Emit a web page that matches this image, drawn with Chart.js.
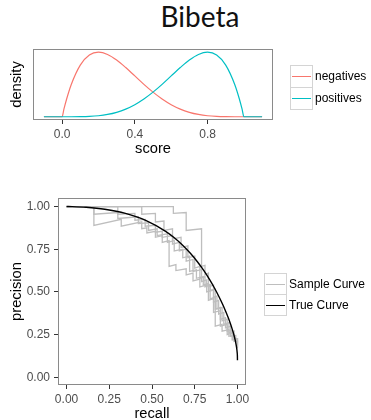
<!DOCTYPE html>
<html>
<head>
<meta charset="utf-8">
<script src="https://cdn.jsdelivr.net/npm/chart.js@4"></script>
<style>
  body { margin: 0; background: #fff; width: 371px; height: 420px; overflow: hidden; position: relative;
         font-family: "Liberation Sans", Arial, sans-serif; }
  #titulo { position: absolute; left: 0; width: 400px; top: 2px; text-align: center;
            font-family: Lato, sans-serif; font-size: 28px; line-height: 29px; color: #111; }
  canvas { position: absolute; left: 0; }
  .clave { position: absolute; width: 23px; box-sizing: border-box; border: 1px solid #d4d4d4; background: #fff; }
  .clave div { position: absolute; left: 1px; right: 1px; height: 1.3px; }
  .etiqueta { position: absolute; font-size: 12px; color: #000; white-space: nowrap; }
</style>
</head>
<body>
<div id="titulo">Bibeta</div>
<canvas id="densidad" width="371" height="175" style="top:0"></canvas>
<canvas id="curvaPR" width="371" height="250" style="top:175px"></canvas>
<div id="leyendas"></div>
<script>
// Datos de densidad (grilla de score y densidades)
const scoreGrid = [-0.1, 0, 0.01, 0.025, 0.05, 0.1, 0.15, 0.2, 0.25, 0.3, 0.35, 0.4, 0.45, 0.5,
                   0.55, 0.6, 0.65, 0.7, 0.75, 0.8, 0.85, 0.9, 0.95, 0.975, 0.99, 1, 1.1];
const negativos = [0, 0, 0.288, 0.678, 1.222, 1.968, 2.349, 2.458, 2.373, 2.161, 1.874, 1.555, 1.235, 0.938,
                   0.677, 0.461, 0.293, 0.170, 0.088, 0.038, 0.013, 0.003, 0, 0, 0, 0, 0];
const positivos = [0, 0, 0, 0, 0, 0.003, 0.013, 0.038, 0.088, 0.170, 0.293, 0.461, 0.677, 0.938,
                   1.235, 1.555, 1.874, 2.161, 2.373, 2.458, 2.349, 1.968, 1.222, 0.678, 0.288, 0, 0];
const scoreTicks = [0, 0.4, 0.8];
const densidadSeries = ['negatives', 'positives'];
const densidadColores = ['#F8766D', '#00BFC4'];

// Curva verdadera precision-recall
const trueRecall = [0, 0.0328, 0.1143, 0.2235, 0.3446, 0.4661, 0.5798, 0.6322, 0.6809, 0.7258, 0.7667,
                    0.8036, 0.8364, 0.8654, 0.8906, 0.9124, 0.9308, 0.9463, 0.9590, 0.9694, 0.9777,
                    0.9891, 0.9954, 0.9984, 0.9996, 1];
const truePrecision = [1, 0.9995, 0.9957, 0.9842, 0.9599, 0.9178, 0.8549, 0.8157, 0.7722, 0.7250, 0.6753,
                       0.6243, 0.5732, 0.5231, 0.4750, 0.4296, 0.3874, 0.3487, 0.3136, 0.2820, 0.2540,
                       0.2073, 0.1716, 0.1448, 0.1251, 0.1];

// Curvas de muestra [recall, precision]
const muestra1 = [[0,1],[0.16,1],[0.16,0.89],[0.32,0.925],[0.32,0.885],[0.44,0.91],[0.44,0.87],[0.47,0.875],
  [0.47,0.845],[0.52,0.855],[0.52,0.82],[0.56,0.83],[0.56,0.79],[0.60,0.80],[0.60,0.65],[0.64,0.66],[0.64,0.625],
  [0.70,0.635],[0.70,0.60],[0.74,0.61],[0.74,0.565],[0.78,0.575],[0.78,0.53],[0.84,0.545],[0.84,0.51],
  [0.87,0.515],[0.87,0.30],[0.91,0.31],[0.91,0.27],[0.95,0.28],[0.95,0.24],[0.98,0.245],[0.98,0.21],
  [1,0.215],[1,0.19]];
const muestra2 = [[0,1],[0.30,1],[0.30,0.955],[0.40,0.96],[0.40,0.92],[0.46,0.925],[0.46,0.885],[0.52,0.89],
  [0.52,0.85],[0.56,0.855],[0.56,0.82],[0.62,0.83],[0.62,0.78],[0.66,0.79],[0.66,0.74],[0.70,0.75],[0.70,0.68],
  [0.74,0.69],[0.74,0.62],[0.79,0.63],[0.79,0.56],[0.82,0.57],[0.82,0.50],[0.86,0.51],[0.86,0.44],[0.89,0.45],
  [0.89,0.37],[0.92,0.38],[0.92,0.31],[0.95,0.32],[0.95,0.26],[0.98,0.27],[0.98,0.22],[1,0.225],[1,0.20]];
const muestra3 = [[0,1],[0.44,1],[0.44,0.955],[0.52,0.96],[0.52,0.91],[0.57,0.915],[0.57,0.86],[0.62,0.87],
  [0.62,0.81],[0.67,0.82],[0.67,0.76],[0.71,0.77],[0.71,0.70],[0.75,0.71],[0.75,0.64],[0.78,0.65],[0.78,0.58],
  [0.81,0.59],[0.81,0.53],[0.84,0.54],[0.84,0.46],[0.87,0.47],[0.87,0.40],[0.90,0.41],[0.90,0.34],[0.93,0.35],
  [0.93,0.29],[0.96,0.30],[0.96,0.24],[0.99,0.245],[0.99,0.21],[1,0.21],[1,0.18]];
const muestra4 = [[0,1],[0.16,1],[0.16,0.955],[0.30,0.965],[0.30,0.93],[0.42,0.94],[0.42,0.90],[0.48,0.905],
  [0.48,0.86],[0.53,0.87],[0.53,0.83],[0.59,0.84],[0.59,0.79],[0.63,0.80],[0.63,0.74],[0.68,0.75],[0.68,0.70],
  [0.72,0.71],[0.72,0.62],[0.76,0.63],[0.76,0.58],[0.80,0.59],[0.80,0.54],[0.83,0.55],[0.83,0.45],[0.86,0.46],
  [0.86,0.38],[0.90,0.39],[0.90,0.30],[0.94,0.31],[0.94,0.25],[0.97,0.26],[0.97,0.22],[1,0.225],[1,0.18]];
const muestra5 = [[0,1],[0.625,1],[0.625,0.96],[0.70,0.965],[0.70,0.86],[0.79,0.87],[0.79,0.65],[0.81,0.655],
  [0.81,0.60],[0.83,0.61],[0.83,0.53],[0.86,0.54],[0.86,0.47],[0.88,0.475],[0.88,0.40],[0.91,0.41],[0.91,0.33],
  [0.94,0.34],[0.94,0.27],[0.97,0.275],[0.97,0.22],[1,0.225],[1,0.17]];
const prTicks = [0, 0.25, 0.5, 0.75, 1];
const prSeries = ['Sample Curve', 'True Curve'];
const prColores = ['#bebebe', '#000000'];

const fuenteTick = { family: '"Liberation Sans", Arial, sans-serif', size: 12 };
const fuenteTitulo = { family: '"Liberation Sans", Arial, sans-serif', size: 14.7 };

// Marco gris alrededor del panel
const marcoPanel = {
  id: 'marcoPanel',
  afterDatasetsDraw(chart) {
    const { ctx, chartArea: a } = chart;
    ctx.save();
    ctx.strokeStyle = '#8a8a8a';
    ctx.lineWidth = 1;
    ctx.strokeRect(Math.round(a.left) + 0.5, Math.round(a.top) + 0.5,
                   Math.round(a.right - a.left) - 1, Math.round(a.bottom - a.top) - 1);
    ctx.restore();
  }
};

function ejeX(min, max, ticks, decimales, alto, titulo, padTitulo) {
  return {
    type: 'linear', min: min, max: max,
    afterBuildTicks: s => { s.ticks = ticks.map(v => ({ value: v })); },
    afterFit: s => { s.height = alto; },
    grid: { drawOnChartArea: false, drawTicks: true, tickLength: 4, tickColor: '#333' },
    border: { display: false },
    ticks: { font: fuenteTick, color: '#4d4d4d', padding: 3, maxRotation: 0,
             callback: v => v.toFixed(decimales) },
    title: { display: true, text: titulo, font: fuenteTitulo, color: '#000', padding: { top: 0, bottom: padTitulo } }
  };
}

function puntos(xs, ys) {
  return xs.map((x, i) => ({ x: x, y: ys[i] }));
}

// Gráfico de densidades (positives encima de negatives)
new Chart(document.getElementById('densidad'), {
  type: 'scatter',
  data: {
    datasets: [negativos, positivos].map((serie, i) => ({
      label: densidadSeries[i],
      data: puntos(scoreGrid, serie),
      order: 2 - i,
      showLine: true, pointRadius: 0, borderWidth: 1.2,
      borderColor: densidadColores[i], cubicInterpolationMode: 'monotone'
    }))
  },
  options: {
    responsive: false, animation: false, events: [],
    layout: { padding: { left: 0, right: 98, top: 49, bottom: 0 } },
    plugins: { legend: { display: false }, tooltip: { enabled: false } },
    scales: {
      x: ejeX(-0.16, 1.16, scoreTicks, 1, 55, 'score', 17),
      y: {
        type: 'linear', min: -0.123, max: 2.58,
        afterFit: s => { s.width = 33; },
        grid: { display: false }, border: { display: false },
        ticks: { display: false },
        title: { display: true, text: 'density', font: fuenteTitulo, color: '#000', padding: { top: 8, bottom: 0 } }
      }
    }
  },
  plugins: [marcoPanel]
});

// Gráfico precision-recall (curva verdadera encima)
const muestras = [muestra1, muestra2, muestra3, muestra4, muestra5];
const datasetsPR = [{
  label: prSeries[1],
  data: puntos(trueRecall, truePrecision),
  order: 0,
  showLine: true, pointRadius: 0, borderWidth: 1.4, borderColor: prColores[1],
  cubicInterpolationMode: 'monotone'
}];
muestras.forEach(m => datasetsPR.push({
  label: prSeries[0],
  data: m.map(p => ({ x: p[0], y: p[1] })),
  order: 1,
  showLine: true, pointRadius: 0, borderWidth: 1.3, borderColor: prColores[0], tension: 0
}));

new Chart(document.getElementById('curvaPR'), {
  type: 'scatter',
  data: { datasets: datasetsPR },
  options: {
    responsive: false, animation: false, events: [],
    layout: { padding: { left: 0, right: 125, top: 23, bottom: 0 } },
    plugins: { legend: { display: false }, tooltip: { enabled: false } },
    scales: {
      x: ejeX(-0.05, 1.05, prTicks, 2, 40, 'recall', 2),
      y: {
        type: 'linear', min: -0.045, max: 1.05,
        afterBuildTicks: s => { s.ticks = prTicks.map(v => ({ value: v })); },
        afterFit: s => { s.width = 58; },
        grid: { drawOnChartArea: false, drawTicks: true, tickLength: 4, tickColor: '#333' },
        border: { display: false },
        ticks: { font: fuenteTick, color: '#4d4d4d', padding: 4, callback: v => v.toFixed(2) },
        title: { display: true, text: 'precision', font: fuenteTitulo, color: '#000', padding: { top: 8, bottom: 0 } }
      }
    }
  },
  plugins: [marcoPanel]
});

// Leyendas con claves al estilo ggplot
function crearLeyenda(x, y, alto, etiquetas, colores) {
  const cont = document.getElementById('leyendas');
  etiquetas.forEach((txt, i) => {
    const clave = document.createElement('div');
    clave.className = 'clave';
    clave.style.left = x + 'px';
    clave.style.top = (y + i * (alto - 1)) + 'px';
    clave.style.height = alto + 'px';
    const linea = document.createElement('div');
    linea.style.top = (alto / 2 - 1.5) + 'px';
    linea.style.background = colores[i];
    clave.appendChild(linea);
    cont.appendChild(clave);
    const et = document.createElement('div');
    et.className = 'etiqueta';
    et.textContent = txt;
    et.style.left = (x + 25) + 'px';
    et.style.top = (y + i * (alto - 1)) + 'px';
    et.style.lineHeight = alto + 'px';
    cont.appendChild(et);
  });
}
crearLeyenda(290, 65, 23, densidadSeries, densidadColores);
crearLeyenda(264, 273, 22, prSeries, prColores);
</script>
</body>
</html>
